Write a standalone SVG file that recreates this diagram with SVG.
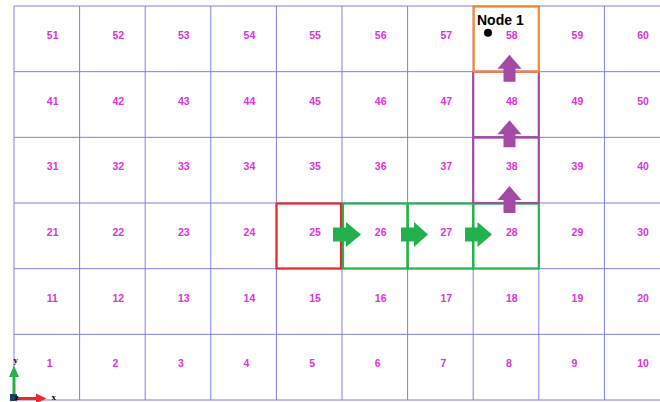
<svg xmlns="http://www.w3.org/2000/svg" width="660" height="402" viewBox="0 0 660 402">
<style>
.grid{stroke:#8080e4;stroke-width:1;fill:none}
.lbl{font-family:"Liberation Sans",Arial,sans-serif;font-size:10.5px;font-weight:bold;fill:#dd33dd}
.cell{fill:none;stroke-width:2.2}
.red{stroke:#e8262a}
.green{stroke:#27b24b}
.purple{stroke:#a04ba6}
.orange{stroke:#f6862f}
.ga{fill:#22b14c}
.pa{fill:#a34aa4}
</style>
<rect width="660" height="402" fill="#ffffff"/>
<g id="grid">
<path class="grid" d="M14,6V400M79.6,6V400M145.2,6V400M210.8,6V400M276.4,6V400M342,6V400M407.6,6V400M473.2,6V400M538.8,6V400M604.4,6V400M14,6H660M14,71.67H660M14,137.33H660M14,203H660M14,268.67H660M14,334.33H660M14,400H660"/>
</g>
<g id="labels">
<text class="lbl" x="46.8" y="39">51</text><text class="lbl" x="112.4" y="39">52</text><text class="lbl" x="178" y="39">53</text><text class="lbl" x="243.6" y="39">54</text><text class="lbl" x="309.2" y="39">55</text><text class="lbl" x="374.8" y="39">56</text><text class="lbl" x="440.4" y="39">57</text><text class="lbl" x="506" y="39">58</text><text class="lbl" x="571.6" y="39">59</text><text class="lbl" x="637.2" y="39">60</text>
<text class="lbl" x="46.8" y="104.7">41</text><text class="lbl" x="112.4" y="104.7">42</text><text class="lbl" x="178" y="104.7">43</text><text class="lbl" x="243.6" y="104.7">44</text><text class="lbl" x="309.2" y="104.7">45</text><text class="lbl" x="374.8" y="104.7">46</text><text class="lbl" x="440.4" y="104.7">47</text><text class="lbl" x="506" y="104.7">48</text><text class="lbl" x="571.6" y="104.7">49</text><text class="lbl" x="637.2" y="104.7">50</text>
<text class="lbl" x="46.8" y="170.3">31</text><text class="lbl" x="112.4" y="170.3">32</text><text class="lbl" x="178" y="170.3">33</text><text class="lbl" x="243.6" y="170.3">34</text><text class="lbl" x="309.2" y="170.3">35</text><text class="lbl" x="374.8" y="170.3">36</text><text class="lbl" x="440.4" y="170.3">37</text><text class="lbl" x="506" y="170.3">38</text><text class="lbl" x="571.6" y="170.3">39</text><text class="lbl" x="637.2" y="170.3">40</text>
<text class="lbl" x="46.8" y="236">21</text><text class="lbl" x="112.4" y="236">22</text><text class="lbl" x="178" y="236">23</text><text class="lbl" x="243.6" y="236">24</text><text class="lbl" x="309.2" y="236">25</text><text class="lbl" x="374.8" y="236">26</text><text class="lbl" x="440.4" y="236">27</text><text class="lbl" x="506" y="236">28</text><text class="lbl" x="571.6" y="236">29</text><text class="lbl" x="637.2" y="236">30</text>
<text class="lbl" x="46.8" y="301.7">11</text><text class="lbl" x="112.4" y="301.7">12</text><text class="lbl" x="178" y="301.7">13</text><text class="lbl" x="243.6" y="301.7">14</text><text class="lbl" x="309.2" y="301.7">15</text><text class="lbl" x="374.8" y="301.7">16</text><text class="lbl" x="440.4" y="301.7">17</text><text class="lbl" x="506" y="301.7">18</text><text class="lbl" x="571.6" y="301.7">19</text><text class="lbl" x="637.2" y="301.7">20</text>
<text class="lbl" x="46.8" y="367.3">1</text><text class="lbl" x="112.4" y="367.3">2</text><text class="lbl" x="178" y="367.3">3</text><text class="lbl" x="243.6" y="367.3">4</text><text class="lbl" x="309.2" y="367.3">5</text><text class="lbl" x="374.8" y="367.3">6</text><text class="lbl" x="440.4" y="367.3">7</text><text class="lbl" x="506" y="367.3">8</text><text class="lbl" x="571.6" y="367.3">9</text><text class="lbl" x="637.2" y="367.3">10</text>
</g>
<g id="cell25"><rect class="cell red" x="276.5" y="203.5" width="64.5" height="65"/></g>
<g id="cell26"><rect class="cell green" x="343" y="203.5" width="64.6" height="65"/></g>
<g id="cell27"><rect class="cell green" x="407.6" y="203.5" width="65.6" height="65"/></g>
<g id="cell28"><rect class="cell green" x="473.2" y="203.5" width="65.6" height="65"/></g>
<g id="cell38"><rect class="cell purple" x="473.2" y="137.33" width="65.6" height="65.67"/></g>
<g id="cell48"><rect class="cell purple" x="473.2" y="71.67" width="65.6" height="65.66"/></g>
<g id="cell58"><rect class="cell orange" x="473.7" y="6.5" width="65.1" height="65.17"/></g>
<g id="connectors">
<path class="ga" d="M333,227.5H346V222L361,234.5L346,247V241.5H333Z"/>
<path class="ga" d="M401,227.5H414V222L428,234.5L414,247V241.5H401Z"/>
<path class="ga" d="M465,227.5H477.5V222L492,234.5L477.5,247V241.5H465Z"/>
<path class="pa" d="M503.5,213H515.5V200H521.5L509.5,186L497.5,200H503.5Z"/>
<path class="pa" d="M503.5,147.3H515.5V134.3H521.5L509.5,120.3L497.5,134.3H503.5Z"/>
<path class="pa" d="M503.5,81.7H515.5V68.7H521.5L509.5,54.7L497.5,68.7H503.5Z"/>
</g>
<g id="node1">
<text x="477" y="25" font-family="Liberation Sans,Arial,sans-serif" font-size="14" font-weight="bold" fill="#000">Node 1</text>
<circle cx="488" cy="32.7" r="4" fill="#000"/>
</g>
<g id="axes">
<rect x="12.5" y="376" width="3" height="22" fill="#22b14c"/>
<path d="M9,377L14,365.5L19,377Z" fill="#22b14c"/>
<rect x="14" y="397" width="23" height="3" fill="#e82a2a"/>
<path d="M36,393.5L46.5,398.5L36,403.5Z" fill="#e82a2a"/>
<rect x="10" y="394" width="7" height="7" fill="#1f3f5f"/>
<text x="15" y="400" font-family="Liberation Serif,serif" font-size="8" font-weight="bold" fill="#000">z</text>
<text x="13.5" y="363" font-family="Liberation Serif,serif" font-size="9" font-weight="bold" fill="#000">y</text>
<text x="51.5" y="400" font-family="Liberation Serif,serif" font-size="9" font-weight="bold" fill="#000">x</text>
</g>
</svg>
